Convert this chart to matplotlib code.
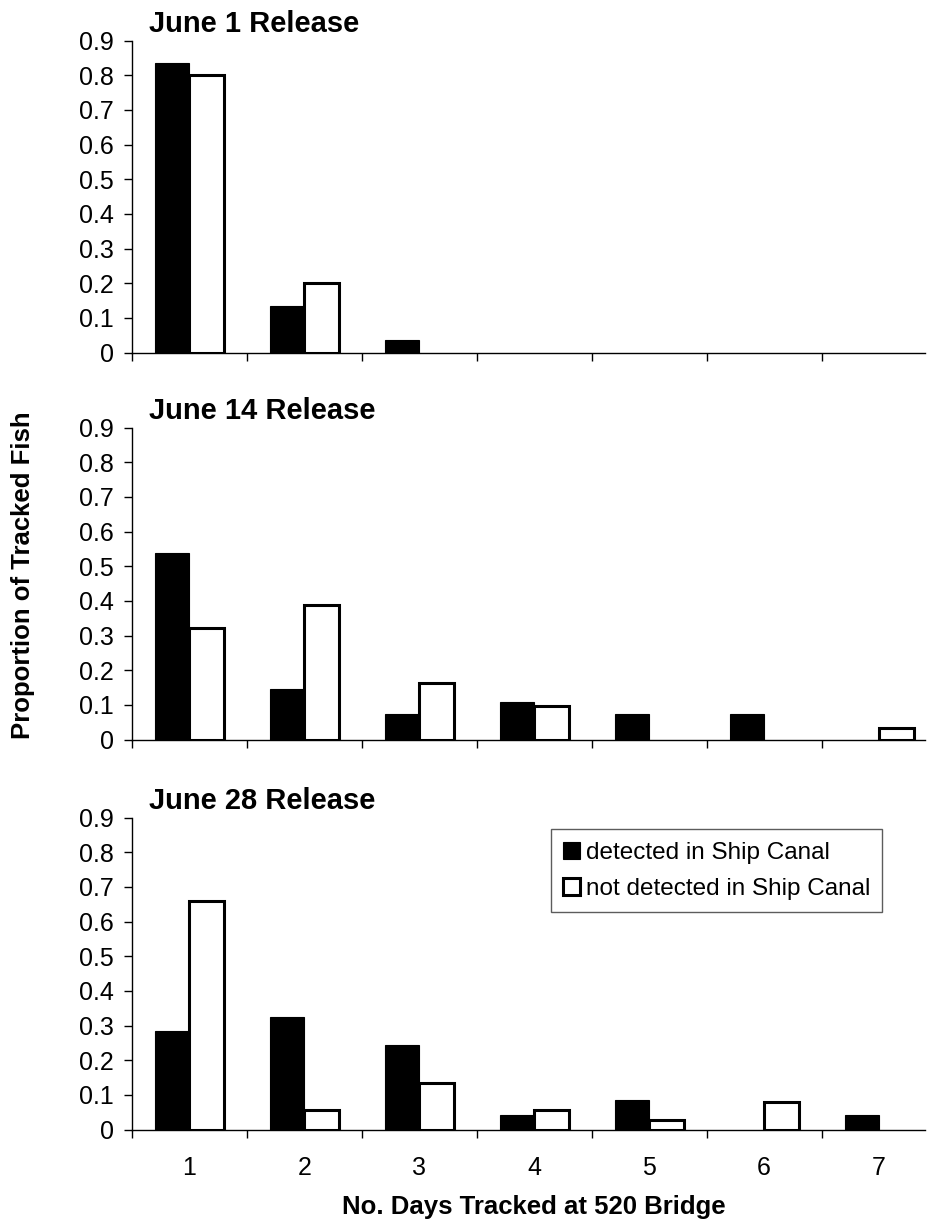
import numpy as np
import matplotlib
matplotlib.use("Agg")
import matplotlib.pyplot as plt
from matplotlib.ticker import FixedLocator, NullFormatter, FixedFormatter

plt.rcParams['font.family'] = ['Liberation Sans', 'DejaVu Sans']

days = [1, 2, 3, 4, 5, 6, 7]
day_labels = ['1', '2', '3', '4', '5', '6', '7']
titles = ['June 1 Release', 'June 14 Release', 'June 28 Release']
series_names = ['detected in Ship Canal', 'not detected in Ship Canal']

june1_detected = [0.834, 0.135, 0.037, 0, 0, 0, 0]
june1_not_detected = [0.80, 0.20, 0, 0, 0, 0, 0]
june14_detected = [0.538, 0.146, 0.074, 0.107, 0.074, 0.074, 0]
june14_not_detected = [0.323, 0.389, 0.162, 0.098, 0, 0, 0.033]
june28_detected = [0.283, 0.325, 0.243, 0.042, 0.084, 0, 0.042]
june28_not_detected = [0.659, 0.055, 0.134, 0.055, 0.027, 0.079, 0]

yticks = [0, 0.1, 0.2, 0.3, 0.4, 0.5, 0.6, 0.7, 0.8, 0.9]
ytick_labels = ['0', '0.1', '0.2', '0.3', '0.4', '0.5', '0.6', '0.7', '0.8', '0.9']

panels = [
    (june1_detected, june1_not_detected),
    (june14_detected, june14_not_detected),
    (june28_detected, june28_not_detected),
]

fig = plt.figure(figsize=(9.3, 12.24), dpi=100)
W, H = 930, 1224
left_px, right_px = 132, 925
bottoms_px = [352.5, 739.5, 1129.5]
height_px = 312

bw = 0.3
x = np.array(days, dtype=float)

axes = []
for i, ((det, nd), title) in enumerate(zip(panels, titles)):
    ax = fig.add_axes([left_px / W, 1 - bottoms_px[i] / H,
                       (right_px - left_px) / W, height_px / H])
    axes.append(ax)
    det = np.array(det)
    nd = np.array(nd)
    m1 = det > 0
    m2 = nd > 0
    ax.bar(x[m1] - bw, det[m1], width=bw, align='edge',
           color='black', edgecolor='black', linewidth=0.8,
           label=series_names[0], zorder=3)
    ax.bar(x[m2], nd[m2], width=bw, align='edge',
           color='white', edgecolor='black', linewidth=2.2,
           label=series_names[1], zorder=3)
    ax.set_xlim(0.5, 7.4)
    ax.set_ylim(0, 0.9)
    for s in ['top', 'right']:
        ax.spines[s].set_visible(False)
    for s in ['left', 'bottom']:
        ax.spines[s].set_linewidth(1.0)
        ax.spines[s].set_color('black')
    ax.set_yticks(yticks)
    ax.set_yticklabels(ytick_labels)
    ax.tick_params(axis='y', direction='out', length=6, width=1.0,
                   labelsize=18, pad=7)
    ax.xaxis.set_major_locator(FixedLocator(np.arange(0.5, 8.0, 1.0)))
    ax.xaxis.set_major_formatter(NullFormatter())
    ax.tick_params(axis='x', which='major', direction='out', length=6, width=1.0)
    if i == 2:
        ax.xaxis.set_minor_locator(FixedLocator(days))
        ax.xaxis.set_minor_formatter(FixedFormatter(day_labels))
        ax.tick_params(axis='x', which='minor', length=0, labelsize=18, pad=19)
    ax.annotate(title, xy=(0.022, 1.0), xycoords='axes fraction',
                xytext=(0, 6), textcoords='offset points',
                fontsize=21, fontweight='bold', ha='left', va='baseline')

leg = axes[2].legend(loc='upper left', bbox_to_anchor=(0.528, 0.962),
                     fontsize=17.5, frameon=True, fancybox=False, shadow=False,
                     handlelength=0.7, handleheight=0.7, handletextpad=0.25,
                     labelspacing=0.6, borderpad=0.5, borderaxespad=0)
leg.get_frame().set_edgecolor('#333333')
leg.get_frame().set_linewidth(1.0)

fig.text(534 / W, 1 - 1214 / H, 'No. Days Tracked at 520 Bridge',
         fontsize=18.5, fontweight='bold', ha='center', va='baseline')
fig.text(23 / W, 1 - 575 / H, 'Proportion of Tracked Fish',
         fontsize=18.5, fontweight='bold', ha='center', va='center',
         rotation=90)

fig.savefig('out.png', dpi=100, facecolor='white')
